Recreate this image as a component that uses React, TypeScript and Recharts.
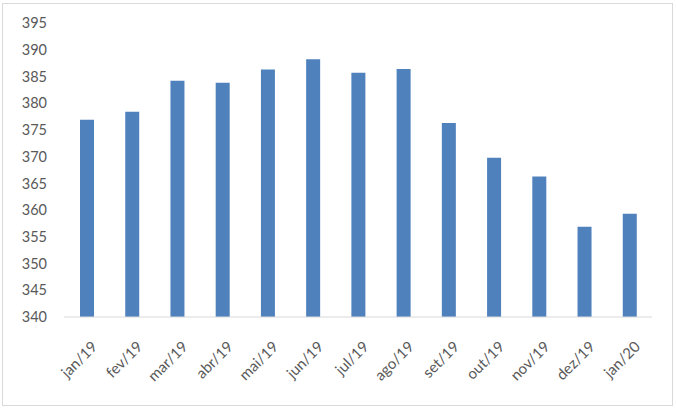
import React from "react";
import { BarChart, Bar, XAxis, YAxis } from "recharts";

const months = ["jan/19", "fev/19", "mar/19", "abr/19", "mai/19", "jun/19", "jul/19", "ago/19", "set/19", "out/19", "nov/19", "dez/19", "jan/20"];
const values = [376.9, 378.4, 384.2, 383.8, 386.3, 388.2, 385.7, 386.4, 376.3, 369.8, 366.3, 356.9, 359.3];
const yTicks = [340, 345, 350, 355, 360, 365, 370, 375, 380, 385, 390, 395];

const data = months.map((m, i) => ({ month: m, value: values[i] }));

const FONT = "Lato, 'Open Sans', sans-serif";

const XTick = (props: any) => {
  const { x, y, payload } = props;
  return (
    <g transform={`translate(${x + 6},${y + 17})`}>
      <text
        x={0}
        y={0}
        dy={8}
        textAnchor="end"
        transform="rotate(-45)"
        fill="#595959"
        fontSize={15}
        fontFamily={FONT}
      >
        {payload.value}
      </text>
    </g>
  );
};

export default function App() {
  return (
    <div style={{ position: "absolute", left: 0, top: 0, width: 676, height: 410, background: "#fff" }}>
      <div
        style={{
          position: "absolute",
          left: 2,
          top: 3,
          width: 669,
          height: 401,
          border: "1px solid #d9d9d9",
          boxSizing: "content-box",
        }}
      />
      <div style={{ position: "absolute", left: 0, top: 0 }}>
        <BarChart
          width={676}
          height={410}
          data={data}
          margin={{ top: 23, right: 24, bottom: 23, left: 14 }}
        >
          <XAxis
            dataKey="month"
            axisLine={{ stroke: "#d9d9d9", strokeWidth: 1 }}
            tickLine={false}
            interval={0}
            height={70}
            tick={<XTick />}
          />
          <YAxis
            domain={[340, 395]}
            ticks={yTicks}
            axisLine={false}
            tickLine={false}
            width={50}
            tickMargin={11}
            interval={0}
            tick={{ fill: "#595959", fontSize: 14.5, fontFamily: FONT }}
          />
          <Bar dataKey="value" fill="#4F81BD" barSize={14} isAnimationActive={false} />
        </BarChart>
      </div>
    </div>
  );
}
